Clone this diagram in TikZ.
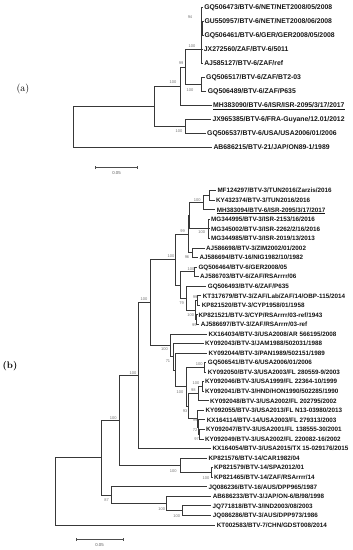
\documentclass[tikz,border=0pt]{standalone}
\usepackage{fontspec}
\newfontfamily\arialf{Liberation Sans}
\usetikzlibrary{arrows.meta}
\begin{document}
\begin{tikzpicture}[x=1pt,y=-1pt,
  br/.style={draw=black!78, line width=0.85pt},
  lfa/.style={anchor=west, inner xsep=1.5pt, inner ysep=0pt, text=black!92,
    font=\arialf\bfseries\fontsize{6.85}{7}\selectfont, text height=4.9pt, text depth=0pt},
  lfb/.style={anchor=west, inner xsep=1.5pt, inner ysep=0pt, text=black!92,
    font=\arialf\bfseries\fontsize{6.3}{7}\selectfont, text height=4.5pt, text depth=0pt},
  bs/.style={inner sep=0pt, text=black!55, font=\arialf\fontsize{4}{4}\selectfont},
  sbar/.style={draw=black!70, line width=0.7pt, {Bar[width=3pt]}-{Bar[width=3pt]}},
  sbl/.style={inner sep=0pt, text=black!65, font=\arialf\fontsize{4.3}{5}\selectfont},
  panel/.style={inner sep=0pt, font=\fontsize{10}{12}\selectfont}]
\useasboundingbox (0,0) rectangle (353,550);

% ---------------- tree (a) ----------------
\node[panel] (pa) at (23,89) {(a)};
\node[lfa] (a0) at (202.6,7.5) {GQ506473/BTV-6/NET/NET2008/05/2008};
\node[lfa] (a1) at (202.8,21.5) {GU550957/BTV-6/NET/NET2008/06/2008};
\node[lfa] (a2) at (202.8,35.5) {GQ506461/BTV-6/GER/GER2008/05/2008};
\node[lfa] (a3) at (202.2,49.5) {JX272560/ZAF/BTV-6/5011};
\node[lfa] (a4) at (202.6,63.5) {AJ585127/BTV-6/ZAF/ref};
\node[lfa] (a5) at (204.5,77.5) {GQ506517/BTV-6/ZAF/BT2-03};
\node[lfa] (a6) at (206.2,91.5) {GQ506489/BTV-6/ZAF/P635};
\node[lfa] (a7) at (211.5,105.5) {\underline{MH383090/BTV-6/ISR/ISR-2095/3/17/2017}};
\node[lfa] (a8) at (210.8,119.5) {JX965385/BTV-6/FRA-Guyane/12.01/2012};
\node[lfa] (a9) at (205.5,133.5) {GQ506537/BTV-6/USA/USA2006/01/2006};
\node[lfa] (a10) at (211.8,147.5) {AB686215/BTV-21/JAP/ON89-1/1989};

\coordinate (ra) at (73,126.95);
\coordinate (An) at (154.5,106.4);
\coordinate (Bn) at (180,86.25);
\coordinate (Cn) at (185.5,126.5);
\coordinate (Dn) at (185.3,67);
\coordinate (En) at (201.8,49.5);
\coordinate (Fn) at (202.6,28.5);
\coordinate (Gn) at (201.7,84.5);

\draw[br] (ra) |- (An) (ra) |- (a10.west);
\draw[br] (An) |- (Bn) (An) |- (Cn);
\draw[br] (Bn) |- (Dn) (Bn) |- (a7.west);
\draw[br] (Dn) |- (En) (Dn) |- (Gn);
\draw[br] (En) |- (a0.west) (En) |- (Fn) (En) |- (a3.west) (En) |- (a4.west);
\draw[br] (Fn) |- (a1.west) (Fn) |- (a2.west);
\draw[br] (Gn) |- (a5.west) (Gn) |- (a6.west);
\draw[br] (Cn) |- (a8.west) (Cn) |- (a9.west);

\node[bs] (sa1) at (190,17) {94};
\node[bs] (sa2) at (192,46) {100};
\node[bs] (sa3) at (181,63.5) {99};
\node[bs] (sa4) at (173,82) {100};
\node[bs] (sa5) at (190,90) {100};
\node[bs] (sa6) at (179,131) {100};

\coordinate (sca1) at (95,167.7);
\coordinate (sca2) at (138,167.7);
\draw[sbar] (sca1) -- (sca2);
\node[sbl] (scal) at (116.5,172.8) {0.05};

% ---------------- tree (b) ----------------
\node[panel, font=\bfseries\fontsize{9.5}{11}\selectfont] (pb) at (10,366) {(b)};
\node[lfb] (b1) at (215.8,190.7) {MF124297/BTV-3/TUN2016/Zarzis/2016};
\node[lfb] (b2) at (214.5,200.25) {KY432374/BTV-3/TUN2016/2016};
\node[lfb] (b3) at (215.2,209.8) {\underline{MH383094/BTV-6/ISR-2095/3/17/2017}};
\node[lfb] (b4) at (209.5,219.35) {MG344995/BTV-3/ISR-2153/16/2016};
\node[lfb] (b5) at (209.5,228.9) {MG345002/BTV-3/ISR-2262/2/16/2016};
\node[lfb] (b6) at (209.5,238.45) {MG344985/BTV-3/ISR-2019/13/2013};
\node[lfb] (b7) at (204.5,248) {AJ586698/BTV-3/ZIM2002/01/2002};
\node[lfb] (b8) at (197.8,257.55) {AJ586694/BTV-16/NIG1982/10/1982};
\node[lfb] (b9) at (196.8,267.1) {GQ506464/BTV-6/GER2008/05};
\node[lfb] (b10) at (198.5,276.65) {AJ586703/BTV-6/ZAF/RSArrrr/06};
\node[lfb] (b11) at (206.2,286.2) {GQ506493/BTV-6/ZAF/P635};
\node[lfb] (b12) at (201.2,295.75) {KT317679/BTV-3/ZAF/Lab/ZAF/14/OBP-115/2014};
\node[lfb] (b13) at (200.2,305.3) {KP821520/BTV-3/CYP1958/01/1958};
\node[lfb] (b14) at (197,314.85) {KP821521/BTV-3/CYP/RSArrrr/03-ref/1943};
\node[lfb] (b15) at (199.2,324.4) {AJ586697/BTV-3/ZAF/RSArrrr/03-ref};
\node[lfb] (b16) at (206.8,333.95) {KX164034/BTV-3/USA2008/AR 566195/2008};
\node[lfb] (b17) at (203.5,343.5) {KY092043/BTV-3/JAM1988/502031/1988};
\node[lfb] (b18) at (206.8,353.05) {KY092044/BTV-3/PAN1989/502151/1989};
\node[lfb] (b19) at (206.2,362.6) {GQ506541/BTV-6/USA2006/01/2006};
\node[lfb] (b20) at (206.2,372.15) {KY092050/BTV-3/USA2003/FL 280559-9/2003};
\node[lfb] (b21) at (203.5,381.7) {KY092046/BTV-3/USA1999/FL 22364-10/1999};
\node[lfb] (b22) at (203.5,391.25) {KY092041/BTV-3/HND/HON1990/502285/1990};
\node[lfb] (b23) at (208.5,400.8) {KY092048/BTV-3/USA2002/FL 202795/2002};
\node[lfb] (b24) at (203.8,410.35) {KY092055/BTV-3/USA2013/FL N13-03980/2013};
\node[lfb] (b25) at (205.2,419.9) {KX164114/BTV-14/USA2003/FL 279313/2003};
\node[lfb] (b26) at (204.5,429.45) {KY092047/BTV-3/USA2001/FL 138555-30/2001};
\node[lfb] (b27) at (203.5,439) {KY092049/BTV-3/USA2002/FL 220082-16/2002};
\node[lfb] (b28) at (210.8,448.55) {KX164054/BTV-3/USA2015/TX 15-029176/2015};
\node[lfb] (b29) at (206.8,458.1) {KP821576/BTV-14/CAR1982/04};
\node[lfb] (b30) at (212.5,467.65) {KP821579/BTV-14/SPA2012/01};
\node[lfb] (b31) at (212.5,477.2) {KP821465/BTV-14/ZAF/RSArrrr/14};
\node[lfb] (b32) at (206.8,486.75) {JQ086236/BTV-16/AUS/DPP965/1987};
\node[lfb] (b33) at (211.2,496.3) {AB686233/BTV-3/JAP/ON-6/B/98/1998};
\node[lfb] (b34) at (210.8,505.85) {JQ771818/BTV-3/IND2003/08/2003};
\node[lfb] (b35) at (211.2,515.4) {JQ086286/BTV-3/AUS/DPP973/1986};
\node[lfb] (b36) at (215.2,524.95) {KT002583/BTV-7/CHN/GDST008/2014};

\coordinate (rb) at (55.7,491.4);
\coordinate (R1) at (101,457.8);
\coordinate (R2) at (119,420.4);
\coordinate (R3) at (111.7,495.15);
\coordinate (R4) at (166.7,503.5);
\coordinate (R5) at (182.3,510.6);
\coordinate (R6) at (138.3,375.55);
\coordinate (R7) at (180,465.3);
\coordinate (R8) at (211.5,472.4);
\coordinate (R9) at (150.7,302.5);
\coordinate (R10) at (175,259.7);
\coordinate (R11) at (170.5,345.35);
\coordinate (R12) at (173,356.7);
\coordinate (R13) at (175.5,369.95);
\coordinate (X1) at (209.5,195.5);
\coordinate (X2) at (203.3,202.7);
\coordinate (X3) at (208,228.9);
\coordinate (X4) at (189.3,215.8);
\coordinate (X5) at (188.3,234.3);
\coordinate (N96) at (192.5,252.8);
\coordinate (N180) at (180,285.05);
\coordinate (NGQ) at (194.5,271.9);
\coordinate (N186) at (186,298.2);
\coordinate (Nkp) at (195,310.1);
\coordinate (Akp) at (197.5,300.55);
\coordinate (Bkp) at (196.5,319.65);
\coordinate (N100b) at (186.7,386.8);
\coordinate (N541) at (204,367.4);
\coordinate (N93) at (188,406.2);
\coordinate (N98) at (198.3,393.65);
\coordinate (N4641) at (202.5,386.5);
\coordinate (N99) at (197.3,418.7);
\coordinate (N72) at (198.5,427.1);
\coordinate (N97) at (199.5,434.25);

\draw[br] (rb) |- (R1) (rb) |- (b36.west);
\draw[br] (R1) |- (R2) (R1) |- (R3);
\draw[br] (R2) |- (R6) (R2) |- (R7);
\draw[br] (R3) |- (b32.west) (R3) |- (R4);
\draw[br] (R4) |- (b33.west) (R4) |- (R5);
\draw[br] (R5) |- (b34.west) (R5) |- (b35.west);
\draw[br] (R7) |- (b29.west) (R7) |- (R8);
\draw[br] (R8) |- (b30.west) (R8) |- (b31.west);
\draw[br] (R6) |- (R9) (R6) |- (b28.west);
\draw[br] (R9) |- (R10) (R9) |- (R11);
\draw[br] (R10) |- (X5) (R10) |- (N180);
\draw[br] (X5) |- (X4) (X5) |- (N96);
\draw[br] (X4) |- (X2) (X4) |- (X3);
\draw[br] (X2) |- (X1) (X2) |- (b3.west);
\draw[br] (X1) |- (b1.west) (X1) |- (b2.west);
\draw[br] (X3) |- (b4.west) (X3) |- (b5.west) (X3) |- (b6.west);
\draw[br] (N96) |- (b7.west) (N96) |- (b8.west);
\draw[br] (N180) |- (NGQ) (N180) |- (N186);
\draw[br] (NGQ) |- (b9.west) (NGQ) |- (b10.west);
\draw[br] (N186) |- (b11.west) (N186) |- (Nkp);
\draw[br] (Nkp) |- (Akp) (Nkp) |- (Bkp);
\draw[br] (Akp) |- (b12.west) (Akp) |- (b13.west);
\draw[br] (Bkp) |- (b14.west) (Bkp) |- (b15.west);
\draw[br] (R11) |- (b16.west) (R11) |- (R12);
\draw[br] (R12) |- (b17.west) (R12) |- (R13);
\draw[br] (R13) |- (b18.west) (R13) |- (N100b);
\draw[br] (N100b) |- (N541) (N100b) |- (N93);
\draw[br] (N541) |- (b19.west) (N541) |- (b20.west);
\draw[br] (N93) |- (N98) (N93) |- (N99);
\draw[br] (N98) |- (N4641) (N98) |- (b23.west);
\draw[br] (N4641) |- (b21.west) (N4641) |- (b22.west);
\draw[br] (N99) |- (b24.west) (N99) |- (N72);
\draw[br] (N72) |- (b25.west) (N72) |- (N97);
\draw[br] (N97) |- (b26.west) (N97) |- (b27.west);

\node[bs] (sb1) at (197.3,200) {100};
\node[bs] (sb2) at (201.7,232.3) {100};
\node[bs] (sb3) at (182.7,230.7) {99};
\node[bs] (sb4) at (187,257.5) {96};
\node[bs] (sb5) at (171,256.5) {100};
\node[bs] (sb6) at (191,269.3) {100};
\node[bs] (sb7) at (181.7,303.3) {79};
\node[bs] (sb8) at (195,297.3) {99};
\node[bs] (sb9) at (190.7,315) {100};
\node[bs] (sb10) at (194.3,325) {99};
\node[bs] (sb11) at (144,299.3) {100};
\node[bs] (sb12) at (164.5,349) {100};
\node[bs] (sb13) at (168,361.5) {71};
\node[bs] (sb14) at (199.3,364) {100};
\node[bs] (sb15) at (196,383.3) {100};
\node[bs] (sb16) at (193.3,390) {98};
\node[bs] (sb17) at (180,391.7) {100};
\node[bs] (sb18) at (185,411) {93};
\node[bs] (sb19) at (195,420) {99};
\node[bs] (sb20) at (195,430) {72};
\node[bs] (sb21) at (196.7,439) {97};
\node[bs] (sb22) at (133,372.7) {100};
\node[bs] (sb23) at (173.3,470.7) {100};
\node[bs] (sb24) at (206,477.7) {100};
\node[bs] (sb25) at (113.3,417.7) {100};
\node[bs] (sb26) at (106.7,500) {87};
\node[bs] (sb27) at (161.7,509) {100};
\node[bs] (sb28) at (176.7,516) {100};

\coordinate (scb1) at (76,539.5);
\coordinate (scb2) at (123.3,539.5);
\draw[sbar] (scb1) -- (scb2);
\node[sbl] (scbl) at (99.5,544.7) {0.05};
\end{tikzpicture}
\end{document}
